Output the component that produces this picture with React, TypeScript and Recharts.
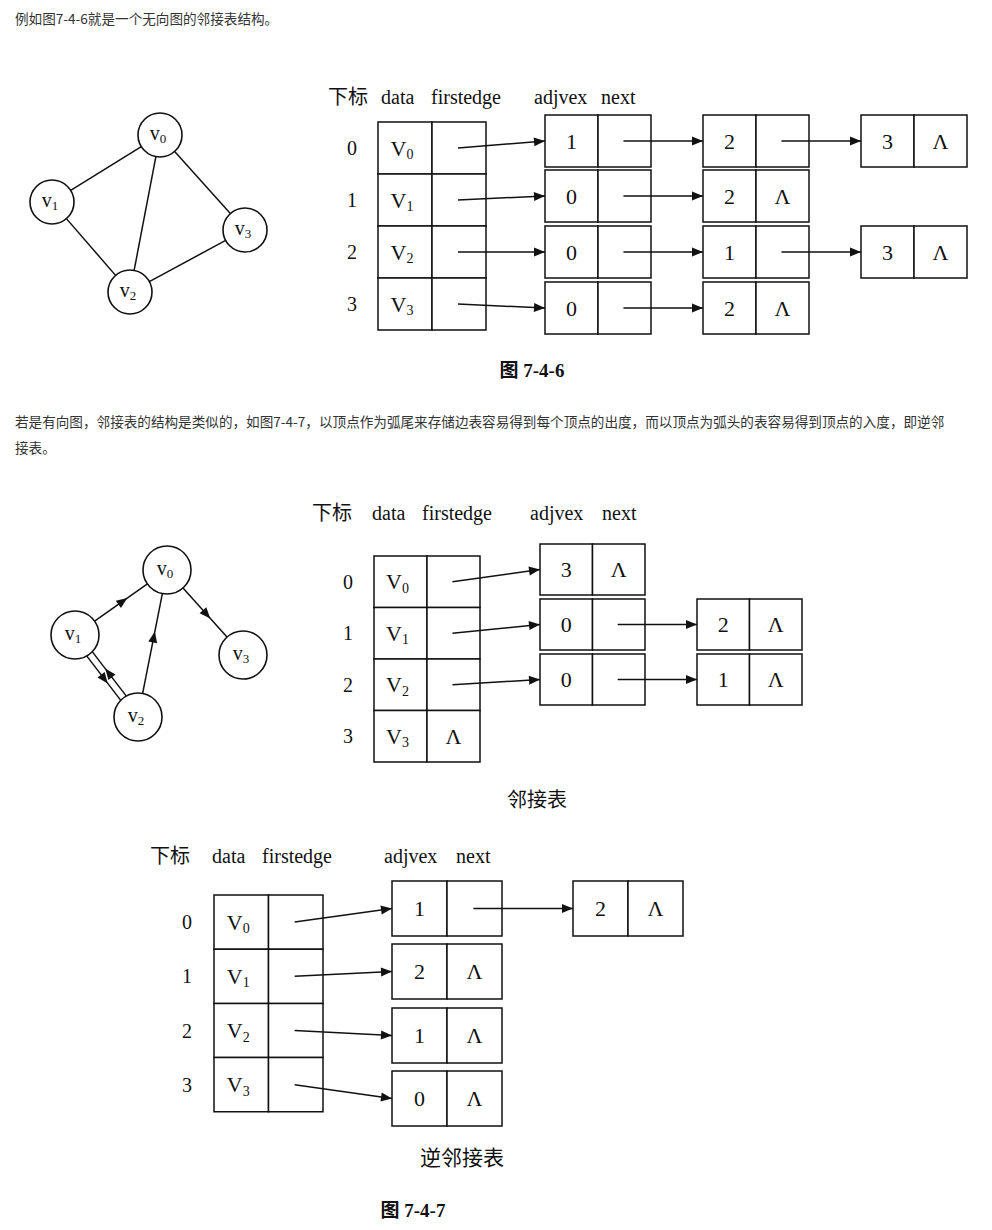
import React from 'react';
import { ScatterChart, Scatter, XAxis, YAxis, ReferenceArea, ReferenceLine } from 'recharts';

// ---- data ----
const introText = ['例如图7-4-6就是一个无向图的邻接表结构。'];
const paraText = ['若是有向图，邻接表的结构是类似的，如图7-4-7，以顶点作为弧尾来存储边表容易得到每个顶点的出度，而以顶点为弧头的表容易得到顶点的入度，即逆邻', '接表。'];
const vertexNames = ['0', '1', '2', '3'];
const fig1Edges = [['1', '2', '3'], ['0', '2'], ['0', '1', '3'], ['0', '2']];
const fig2Edges = [['3'], ['0', '2'], ['0', '1'], []];
const fig3Edges = [['1', '2'], ['2'], ['1'], ['0']];
const undirectedEdges = [[0, 1], [0, 2], [0, 3], [1, 2], [2, 3]];
const directedEdges = [[1, 0], [0, 3], [2, 0], [1, 2], [2, 1]];
const captions = ['图 7-4-6', '邻接表', '逆邻接表', '图 7-4-7'];
const NIL = 'Λ';

const SERIF = '"Liberation Serif","DejaVu Serif","Noto Sans CJK SC",serif';
const W = 992, H = 1230;

type Pt = { x: number; y: number; kind: string; t?: string; sub?: string; size?: number; anchor?: string; bold?: boolean };

const rects: { x1: number; x2: number; y1: number; y2: number }[] = [];
const segs: { a: [number, number]; b: [number, number]; arrow: 'end' | 'mid' | 'none' }[] = [];
const pts: Pt[] = [];

function buildFig(cfg: {
  edges: string[][]; idxX: number; tx: number; tw: number; ty: number; th: number;
  cols: number[]; bw: number; rowsY: number[]; bh: number; header: { x: number; y: number; parts: [number, string][] };
}) {
  const { edges, idxX, tx, tw, ty, th, cols, bw, rowsY, bh, header } = cfg;
  header.parts.forEach(([dx, s]) => pts.push({ x: header.x + dx, y: header.y, kind: 'txt', t: s, size: 20, anchor: 'start' }));
  vertexNames.forEach((v, i) => {
    const y0 = ty + i * th;
    const cy = y0 + th / 2;
    rects.push({ x1: tx, x2: tx + tw / 2, y1: y0, y2: y0 + th });
    rects.push({ x1: tx + tw / 2, x2: tx + tw, y1: y0, y2: y0 + th });
    pts.push({ x: idxX, y: cy, kind: 'txt', t: v, size: 20 });
    pts.push({ x: tx + tw / 4, y: cy, kind: 'vx', t: 'V', sub: v, size: 22 });
    const row = edges[i];
    if (!row.length) {
      pts.push({ x: tx + (3 * tw) / 4, y: cy, kind: 'txt', t: NIL, size: 22 });
      return;
    }
    row.forEach((val, j) => {
      const bx = cols[j];
      const by = rowsY[i];
      rects.push({ x1: bx, x2: bx + bw / 2, y1: by, y2: by + bh });
      rects.push({ x1: bx + bw / 2, x2: bx + bw, y1: by, y2: by + bh });
      pts.push({ x: bx + bw / 4, y: by + bh / 2, kind: 'txt', t: val, size: 22 });
      if (j === row.length - 1) pts.push({ x: bx + (3 * bw) / 4, y: by + bh / 2, kind: 'txt', t: NIL, size: 22 });
      if (j === 0) segs.push({ a: [tx + tw * 0.74, cy], b: [bx, by + bh / 2], arrow: 'end' });
      else segs.push({ a: [cols[j - 1] + bw * 0.74, by + bh / 2], b: [bx, by + bh / 2], arrow: 'end' });
    });
  });
}

buildFig({
  edges: fig1Edges, idxX: 352, tx: 378, tw: 108, ty: 122, th: 52,
  cols: [545, 703, 861], bw: 106, rowsY: [115, 170, 226, 282], bh: 52,
  header: { x: 328, y: 97, parts: [[0, '下标'], [53, 'data'], [103, 'firstedge'], [206, 'adjvex'], [273, 'next']] },
});
buildFig({
  edges: fig2Edges, idxX: 348, tx: 374, tw: 106, ty: 556, th: 51.5,
  cols: [540, 697], bw: 105, rowsY: [544, 599, 654, 710], bh: 51,
  header: { x: 312, y: 513, parts: [[0, '下标'], [60, 'data'], [110, 'firstedge'], [218, 'adjvex'], [290, 'next']] },
});
buildFig({
  edges: fig3Edges, idxX: 187, tx: 214, tw: 109, ty: 895, th: 54.2,
  cols: [392, 573], bw: 110, rowsY: [881, 944, 1008, 1071], bh: 55,
  header: { x: 150, y: 856, parts: [[0, '下标'], [62, 'data'], [112, 'firstedge'], [234, 'adjvex'], [306, 'next']] },
});

// graphs
const g1: [number, number][] = [[160, 135], [52, 202], [130, 292], [245, 230]];
const g2: [number, number][] = [[167, 570], [75, 635], [138, 717], [243, 655]];
const R1 = 22, R2 = 24;
function edge(p: [number, number], q: [number, number], r: number, off: number, arrow: 'mid' | 'none') {
  const dx = q[0] - p[0], dy = q[1] - p[1];
  const L = Math.hypot(dx, dy);
  const ux = dx / L, uy = dy / L;
  const nx = -uy * off, ny = ux * off;
  segs.push({ a: [p[0] + ux * r + nx, p[1] + uy * r + ny], b: [q[0] - ux * r + nx, q[1] - uy * r + ny], arrow });
}
undirectedEdges.forEach(([a, b]) => edge(g1[a], g1[b], R1, 0, 'none'));
directedEdges.forEach(([a, b]) => edge(g2[a], g2[b], R2, (a === 1 && b === 2) || (a === 2 && b === 1) ? 3.5 : 0, 'mid'));
g1.forEach((p, i) => pts.push({ x: p[0], y: p[1], kind: 'node', t: 'v', sub: String(i), size: R1 }));
g2.forEach((p, i) => pts.push({ x: p[0], y: p[1], kind: 'node', t: 'v', sub: String(i), size: R2 }));

// captions & paragraphs
pts.push({ x: 532, y: 370, kind: 'txt', t: captions[0], size: 19, bold: true });
pts.push({ x: 537, y: 800, kind: 'txt', t: captions[1], size: 20 });
pts.push({ x: 462, y: 1158, kind: 'txt', t: captions[2], size: 21 });
pts.push({ x: 413, y: 1210, kind: 'txt', t: captions[3], size: 19, bold: true });
pts.push({ x: 15, y: 18, kind: 'para', t: introText[0] });
pts.push({ x: 15, y: 421, kind: 'para', t: paraText[0] });
pts.push({ x: 15, y: 447, kind: 'para', t: paraText[1] });

function Shape(props: any) {
  const { cx, cy, payload } = props;
  const p: Pt = payload;
  if (p.kind === 'para')
    return <text x={cx} y={cy} dominantBaseline="central" fontSize={13.6} fill="#333" fontFamily='"Noto Sans CJK SC","Noto Sans",sans-serif'>{p.t}</text>;
  if (p.kind === 'txt')
    return <text x={cx} y={cy} textAnchor={(p.anchor as any) || 'middle'} dominantBaseline="central" fontSize={p.size} fontWeight={p.bold ? 700 : 400} fill="#111" fontFamily={SERIF}>{p.t}</text>;
  if (p.kind === 'vx')
    return <text x={cx - 3} y={cy} textAnchor="middle" dominantBaseline="central" fontSize={p.size} fill="#111" fontFamily={SERIF}>{p.t}<tspan fontSize={14} dy={6}>{p.sub}</tspan></text>;
  return (
    <g>
      <circle cx={cx} cy={cy} r={p.size} fill="#fff" stroke="#111" strokeWidth={1.6} />
      <text x={cx - 2} y={cy - 2} textAnchor="middle" dominantBaseline="central" fontSize={20} fill="#111" fontFamily={SERIF}>{p.t}<tspan fontSize={13} dy={5}>{p.sub}</tspan></text>
    </g>
  );
}

function head(tx: number, ty: number, ux: number, uy: number) {
  const L = 11, w = 4.5;
  const bx = tx - ux * L, by = ty - uy * L;
  return `${tx},${ty} ${bx - uy * w},${by + ux * w} ${bx + uy * w},${by - ux * w}`;
}

function makeLineShape(arrow: string) {
  return (props: any) => {
    const { x1, y1, x2, y2 } = props;
    const dx = x2 - x1, dy = y2 - y1;
    const L = Math.hypot(dx, dy) || 1;
    const ux = dx / L, uy = dy / L;
    let poly = null;
    if (arrow === 'end') poly = head(x2, y2, ux, uy);
    if (arrow === 'mid') poly = head(x1 + dx * 0.62, y1 + dy * 0.62, ux, uy);
    return (
      <g>
        <line x1={x1} y1={y1} x2={x2} y2={y2} stroke="#111" strokeWidth={1.5} />
        {poly && <polygon points={poly} fill="#111" />}
      </g>
    );
  };
}

export default function App() {
  return (
    <div style={{ position: 'absolute', left: 0, top: 0, width: W, height: H, background: '#fff' }}>
      <ScatterChart width={W} height={H} margin={{ top: 0, right: 0, bottom: 0, left: 0 }}>
        <XAxis type="number" dataKey="x" domain={[0, W]} hide />
        <YAxis type="number" dataKey="y" domain={[0, H]} reversed hide />
        {rects.map((r, i) => (
          <ReferenceArea key={'r' + i} x1={r.x1} x2={r.x2} y1={r.y1} y2={r.y2} fill="#fff" fillOpacity={1} stroke="#111" strokeWidth={1.5} ifOverflow="visible" />
        ))}
        {segs.map((s, i) => (
          <ReferenceLine key={'s' + i} segment={[{ x: s.a[0], y: s.a[1] }, { x: s.b[0], y: s.b[1] }]} ifOverflow="visible" shape={makeLineShape(s.arrow)} />
        ))}
        <Scatter data={pts} shape={Shape} isAnimationActive={false} />
      </ScatterChart>
    </div>
  );
}
